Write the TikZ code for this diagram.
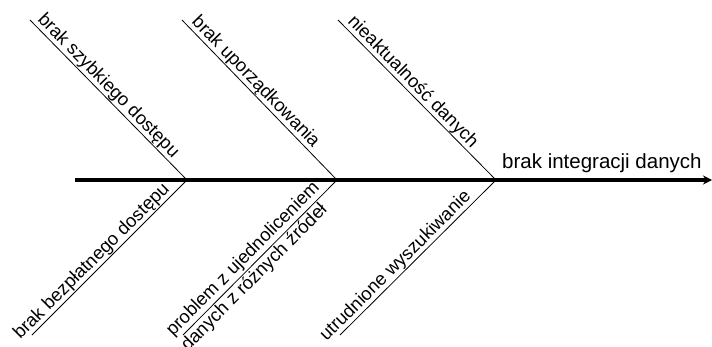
\documentclass[tikz,border=0pt]{standalone}
\usepackage{fontspec}
\setmainfont{Liberation Sans}
\usetikzlibrary{arrows.meta,positioning}

\begin{document}
\begin{tikzpicture}[x=1pt, y=-1pt,
  spine/.style={line width=3.6pt, -{Stealth[length=9pt,width=9pt]}},
  bone/.style={line width=0.8pt},
  cause/.style={sloped, inner sep=0.5pt, font=\fontsize{18.4}{21}\selectfont},
  effect/.style={inner sep=0pt, anchor=base west, font=\fontsize{20.5}{24}\selectfont}]
\useasboundingbox (0,0) rectangle (712,346);
% spine and joints
\coordinate (s0) at (75,180);
\coordinate (s1) at (712,180);
\coordinate (j1) at (187,180);
\coordinate (j2) at (337,180);
\coordinate (j3) at (496,180);
% bone ends
\coordinate (u1) at (30,20);
\coordinate (u2) at (182,20);
\coordinate (u3) at (338,20);
\coordinate (d1) at (32,335);
\coordinate (d2) at (183,335);
\coordinate (d3) at (340,335);
\draw[spine] (s0) -- (s1);
\node[effect] (eff) at (502,168) {brak integracji danych};
% upper bones
\draw[bone] (u1) -- (j1) node[cause, pos=0.455, above] (c1) {brak szybkiego dostępu};
\draw[bone] (u2) -- (j2) node[cause, pos=0.43, above] (c2) {brak uporządkowania};
\draw[bone] (u3) -- (j3) node[cause, pos=0.43, above] (c3) {nieaktualność danych};
% lower bones
\draw[bone] (d1) -- (j1) node[cause, pos=0.43, above] (c4) {brak bezpłatnego dostępu};
\draw[bone] (d2) -- (j2) node[cause, pos=0.44, align=left] (c5) {problem z ujednoliceniem\\danych z różnych źródeł};
\draw[bone] (d3) -- (j3) node[cause, pos=0.40, above] (c6) {utrudnione wyszukiwanie};
\end{tikzpicture}
\end{document}
